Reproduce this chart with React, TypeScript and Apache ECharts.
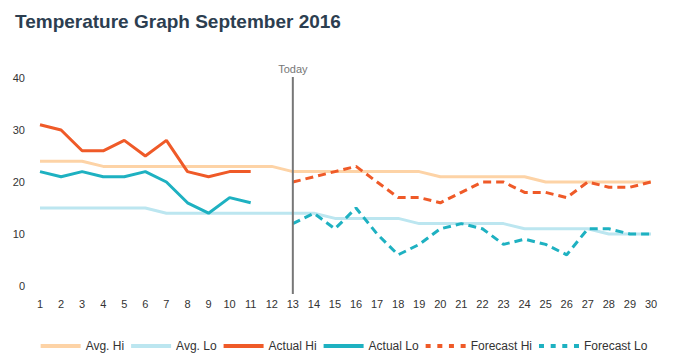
import React, { useEffect, useRef } from "react";
import * as echarts from "echarts";

const days = ["1","2","3","4","5","6","7","8","9","10","11","12","13","14","15","16","17","18","19","20","21","22","23","24","25","26","27","28","29","30"];
const avgHi = [24,24,24,23,23,23,23,23,23,23,23,23,22,22,22,22,22,22,22,21,21,21,21,21,20,20,20,20,20,20];
const avgLo = [15,15,15,15,15,15,14,14,14,14,14,14,14,14,13,13,13,13,12,12,12,12,12,11,11,11,11,10,10,10];
const actualHi = [31,30,26,26,28,25,28,22,21,22,22];
const actualLo = [22,21,22,21,21,22,20,16,14,17,16];
const forecastHi = [20,21,22,23,20,17,17,16,18,20,20,18,18,17,20,19,19,20];
const forecastLo = [12,14,11,15,10,6,8,11,12,11,8,9,8,6,11,11,10,10];
const todayLabel = "13";
const yTicks = { min: 0, max: 40, interval: 10 };

const FONT = "'Liberation Sans', Arial, Helvetica, sans-serif";
const SOLID_ICON = "path://M0,0h40v4h-40z";
const DASH_ICON = "path://M0,0h5v4h-5z M11.7,0h5v4h-5z M23.3,0h5v4h-5z M35,0h5v4h-5z";

function padActual(arr: number[]) {
  const out: (number | string)[] = [];
  for (let i = 0; i < days.length; i++) out.push(i < arr.length ? arr[i] : "-");
  return out;
}
function padForecast(arr: number[]) {
  const start = days.indexOf(todayLabel);
  const out: (number | string)[] = [];
  for (let i = 0; i < days.length; i++) out.push(i >= start ? arr[i - start] : "-");
  return out;
}

export default function App() {
  const ref = useRef<HTMLDivElement>(null);
  useEffect(() => {
    document.body.style.margin = "0";
    if (!ref.current) return;
    const chart = echarts.init(ref.current, null, { renderer: "svg" });
    const mk = (name: string, data: any[], color: string, width: number, dashed: boolean, z: number) => ({
      name,
      type: "line",
      data,
      symbol: "none",
      showSymbol: false,
      connectNulls: false,
      z,
      lineStyle: { color, width, type: dashed ? [8, 5] : "solid" },
      itemStyle: { color },
      emphasis: { disabled: true },
    });
    chart.setOption({
      animation: false,
      textStyle: { fontFamily: FONT },
      title: {
        text: "Temperature Graph September 2016",
        left: 10,
        top: 7,
        textStyle: { fontSize: 19, fontWeight: "bold", color: "#2c3e50", fontFamily: FONT },
      },
      legend: {
        left: "center",
        top: 335,
        itemWidth: 40,
        itemHeight: 4,
        itemGap: 7,
        textStyle: { fontSize: 12, color: "#333", fontFamily: FONT },
        data: [
          { name: "Avg. Hi", icon: SOLID_ICON },
          { name: "Avg. Lo", icon: SOLID_ICON },
          { name: "Actual Hi", icon: SOLID_ICON },
          { name: "Actual Lo", icon: SOLID_ICON },
          { name: "Forecast Hi", icon: DASH_ICON },
          { name: "Forecast Lo", icon: DASH_ICON },
        ],
      },
      grid: { left: 40, right: 37, top: 78, bottom: 76, containLabel: false },
      xAxis: {
        type: "category",
        data: days,
        boundaryGap: false,
        axisLine: { show: false },
        axisTick: { show: false },
        splitLine: { show: false },
        axisLabel: { interval: 0, color: "#333", fontSize: 11, margin: 12, fontFamily: FONT },
      },
      yAxis: {
        type: "value",
        min: yTicks.min,
        max: yTicks.max,
        interval: yTicks.interval,
        axisLine: { show: false },
        axisTick: { show: false },
        splitLine: { show: false },
        axisLabel: { color: "#333", fontSize: 11, margin: 15, fontFamily: FONT },
      },
      series: [
        mk("Avg. Hi", avgHi, "#fdd3a6", 3, false, 1),
        mk("Avg. Lo", avgLo, "#bce6f0", 3, false, 1),
        mk("Actual Hi", padActual(actualHi), "#ef5a28", 3, false, 3),
        mk("Actual Lo", padActual(actualLo), "#1eb1c1", 3, false, 3),
        mk("Forecast Hi", padForecast(forecastHi), "#ef5a28", 3, true, 3),
        mk("Forecast Lo", padForecast(forecastLo), "#1eb1c1", 3, true, 3),
      ],
    });
    const x = chart.convertToPixel({ xAxisIndex: 0 }, todayLabel) as number;
    const yTop = chart.convertToPixel({ yAxisIndex: 0 }, yTicks.max) as number;
    const yBot = chart.convertToPixel({ yAxisIndex: 0 }, yTicks.min) as number;
    chart.setOption({
      graphic: [
        {
          type: "line",
          z: 10,
          shape: { x1: x, y1: yTop - 1, x2: x, y2: yBot + 8 },
          style: { stroke: "#777", lineWidth: 2 },
        },
        {
          type: "text",
          z: 10,
          x: x,
          y: yTop - 4,
          style: {
            text: "Today",
            align: "center",
            verticalAlign: "bottom",
            fill: "#777",
            fontSize: 11,
            fontFamily: FONT,
          },
        },
      ],
    });
    return () => chart.dispose();
  }, []);
  return <div ref={ref} style={{ width: 688, height: 362 }} />;
}
